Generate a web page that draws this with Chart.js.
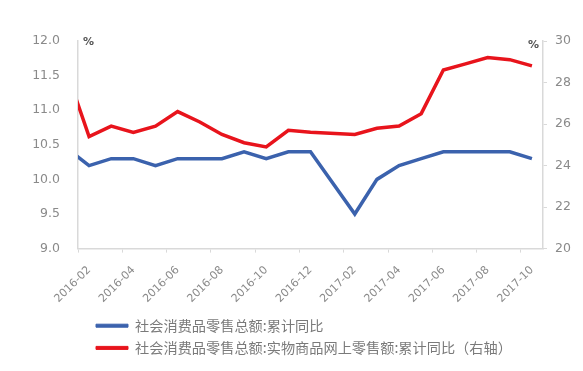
<!DOCTYPE html>
<html>
<head>
<meta charset="utf-8">
<script src="https://cdn.jsdelivr.net/npm/chart.js@4/dist/chart.umd.min.js"></script>
<style>
  html, body { margin: 0; background: #fff; }
  #wrap { width: 583px; height: 371px; position: relative; }
</style>
</head>
<body>
<div id="wrap"><canvas id="chart"></canvas></div>
<script>
// monthly cumulative data (Jan is not published, Jan-Feb is merged)
const months = ['2015-12', '2016-02', '2016-03', '2016-04', '2016-05', '2016-06', '2016-07',
  '2016-08', '2016-09', '2016-10', '2016-11', '2016-12', '2017-02', '2017-03', '2017-04',
  '2017-05', '2017-06', '2017-07', '2017-08', '2017-09', '2017-10'];
const retailTotal = [10.7, 10.2, 10.3, 10.3, 10.2, 10.3, 10.3, 10.3, 10.4, 10.3, 10.4, 10.4,
  9.5, 10.0, 10.2, 10.3, 10.4, 10.4, 10.4, 10.4, 10.3];
const onlineGoods = [31.6, 25.4, 25.9, 25.6, 25.9, 26.6, 26.1, 25.5, 25.1, 24.9, 25.7, 25.6,
  25.5, 25.8, 25.9, 26.5, 28.6, 28.9, 29.2, 29.1, 28.8];
const tickLabels = ['2016-02', '2016-04', '2016-06', '2016-08', '2016-10', '2016-12',
  '2017-02', '2017-04', '2017-06', '2017-08', '2017-10'];
const seriesNames = ['社会消费品零售总额:累计同比', '社会消费品零售总额:实物商品网上零售额:累计同比（右轴）'];

const blue = '#3b62ad';
const red = '#e8141c';
const axisGray = '#d9d9d9';
const textGray = '#8a8a8a';

function monthIndex(s) {
  const parts = s.split('-').map(Number);
  return (parts[0] - 2016) * 12 + parts[1] - 1;
}
function toPoints(values) {
  return values.map((v, i) => ({ x: monthIndex(months[i]), y: v }));
}
function isBoundary(v) {
  return Math.abs(v % 1) > 0.25;
}

// draws the small "%" unit marks at top of both axes
const unitMarks = {
  id: 'unitMarks',
  afterDraw(chart) {
    const ctx = chart.ctx;
    const area = chart.chartArea;
    ctx.save();
    ctx.fillStyle = '#555';
    ctx.font = 'bold 11px "DejaVu Sans"';
    ctx.textBaseline = 'middle';
    ctx.textAlign = 'left';
    ctx.fillText('%', area.left + 5, area.top + 1);
    ctx.textAlign = 'right';
    ctx.fillText('%', area.right - 4, area.top + 4);
    ctx.restore();
  }
};

// push the legend a bit to the right, like the original
const legendShift = {
  id: 'legendShift',
  afterLayout(chart) {
    chart.legend.left += 10;
    chart.legend.right += 10;
  }
};

const ctx = document.getElementById('chart').getContext('2d');
new Chart(ctx, {
  type: 'line',
  data: {
    datasets: [{
      label: seriesNames[0],
      data: toPoints(retailTotal),
      borderColor: blue,
      backgroundColor: blue,
      borderWidth: 3.5,
      pointRadius: 0,
      tension: 0,
      yAxisID: 'y'
    }, {
      label: seriesNames[1],
      data: toPoints(onlineGoods),
      borderColor: red,
      backgroundColor: red,
      borderWidth: 3.5,
      pointRadius: 0,
      tension: 0,
      yAxisID: 'y1'
    }]
  },
  options: {
    responsive: true,
    maintainAspectRatio: false,
    animation: false,
    layout: { padding: { top: 41, right: 0, bottom: 6, left: 0 } },
    scales: {
      x: {
        type: 'linear',
        min: 0.5,
        max: 21.5,
        afterBuildTicks(scale) {
          // tick marks sit between every two months, labels on odd months
          const t = [];
          for (let i = 0; i < tickLabels.length; i++) {
            const m = monthIndex(tickLabels[i]);
            t.push({ value: m - 0.5 });
            t.push({ value: m });
          }
          scale.ticks = t;
        },
        afterFit(scale) { scale.height = 62; },
        ticks: {
          autoSkip: false,
          maxRotation: 45,
          minRotation: 45,
          color: textGray,
          font: { family: 'DejaVu Sans', size: 11 },
          padding: 11,
          callback(value) {
            if (isBoundary(value)) return '';
            return tickLabels[(value - 1) / 2];
          }
        },
        grid: {
          drawOnChartArea: false,
          tickLength: 4,
          tickColor: c => (c.tick && isBoundary(c.tick.value)) ? axisGray : 'rgba(0,0,0,0)'
        },
        border: { color: axisGray, width: 1.5 }
      },
      y: {
        position: 'left',
        min: 9,
        max: 12,
        afterBuildTicks(scale) {
          const t = [];
          for (let v = 9; v <= 12.001; v += 0.5) t.push({ value: Math.round(v * 10) / 10 });
          scale.ticks = t;
        },
        afterFit(scale) { scale.width = 78; },
        ticks: {
          color: textGray,
          font: { family: 'DejaVu Sans', size: 12.5 },
          padding: 10,
          callback: v => v.toFixed(1)
        },
        grid: { display: false },
        border: { color: axisGray, width: 1.5 }
      },
      y1: {
        position: 'right',
        min: 20,
        max: 30,
        afterBuildTicks(scale) {
          const t = [];
          for (let v = 20; v <= 30; v += 2) t.push({ value: v });
          scale.ticks = t;
        },
        afterFit(scale) { scale.width = 40; },
        ticks: {
          color: textGray,
          font: { family: 'DejaVu Sans', size: 12.5 },
          padding: 8
        },
        grid: { drawOnChartArea: false, tickLength: 4, tickColor: axisGray },
        border: { color: axisGray, width: 1.5 }
      }
    },
    plugins: {
      legend: {
        position: 'bottom',
        align: 'start',
        fullSize: false,
        labels: {
          color: '#7a7a7a',
          font: { family: 'Noto Sans CJK SC', size: 14.2 },
          boxWidth: 32,
          boxHeight: 3,
          padding: 8,
          generateLabels(chart) {
            const items = Chart.defaults.plugins.legend.labels.generateLabels(chart);
            items.forEach(it => { it.lineWidth = 1; });
            return items;
          }
        }
      },
      tooltip: { enabled: false }
    }
  },
  plugins: [unitMarks, legendShift]
});
</script>
</body>
</html>
